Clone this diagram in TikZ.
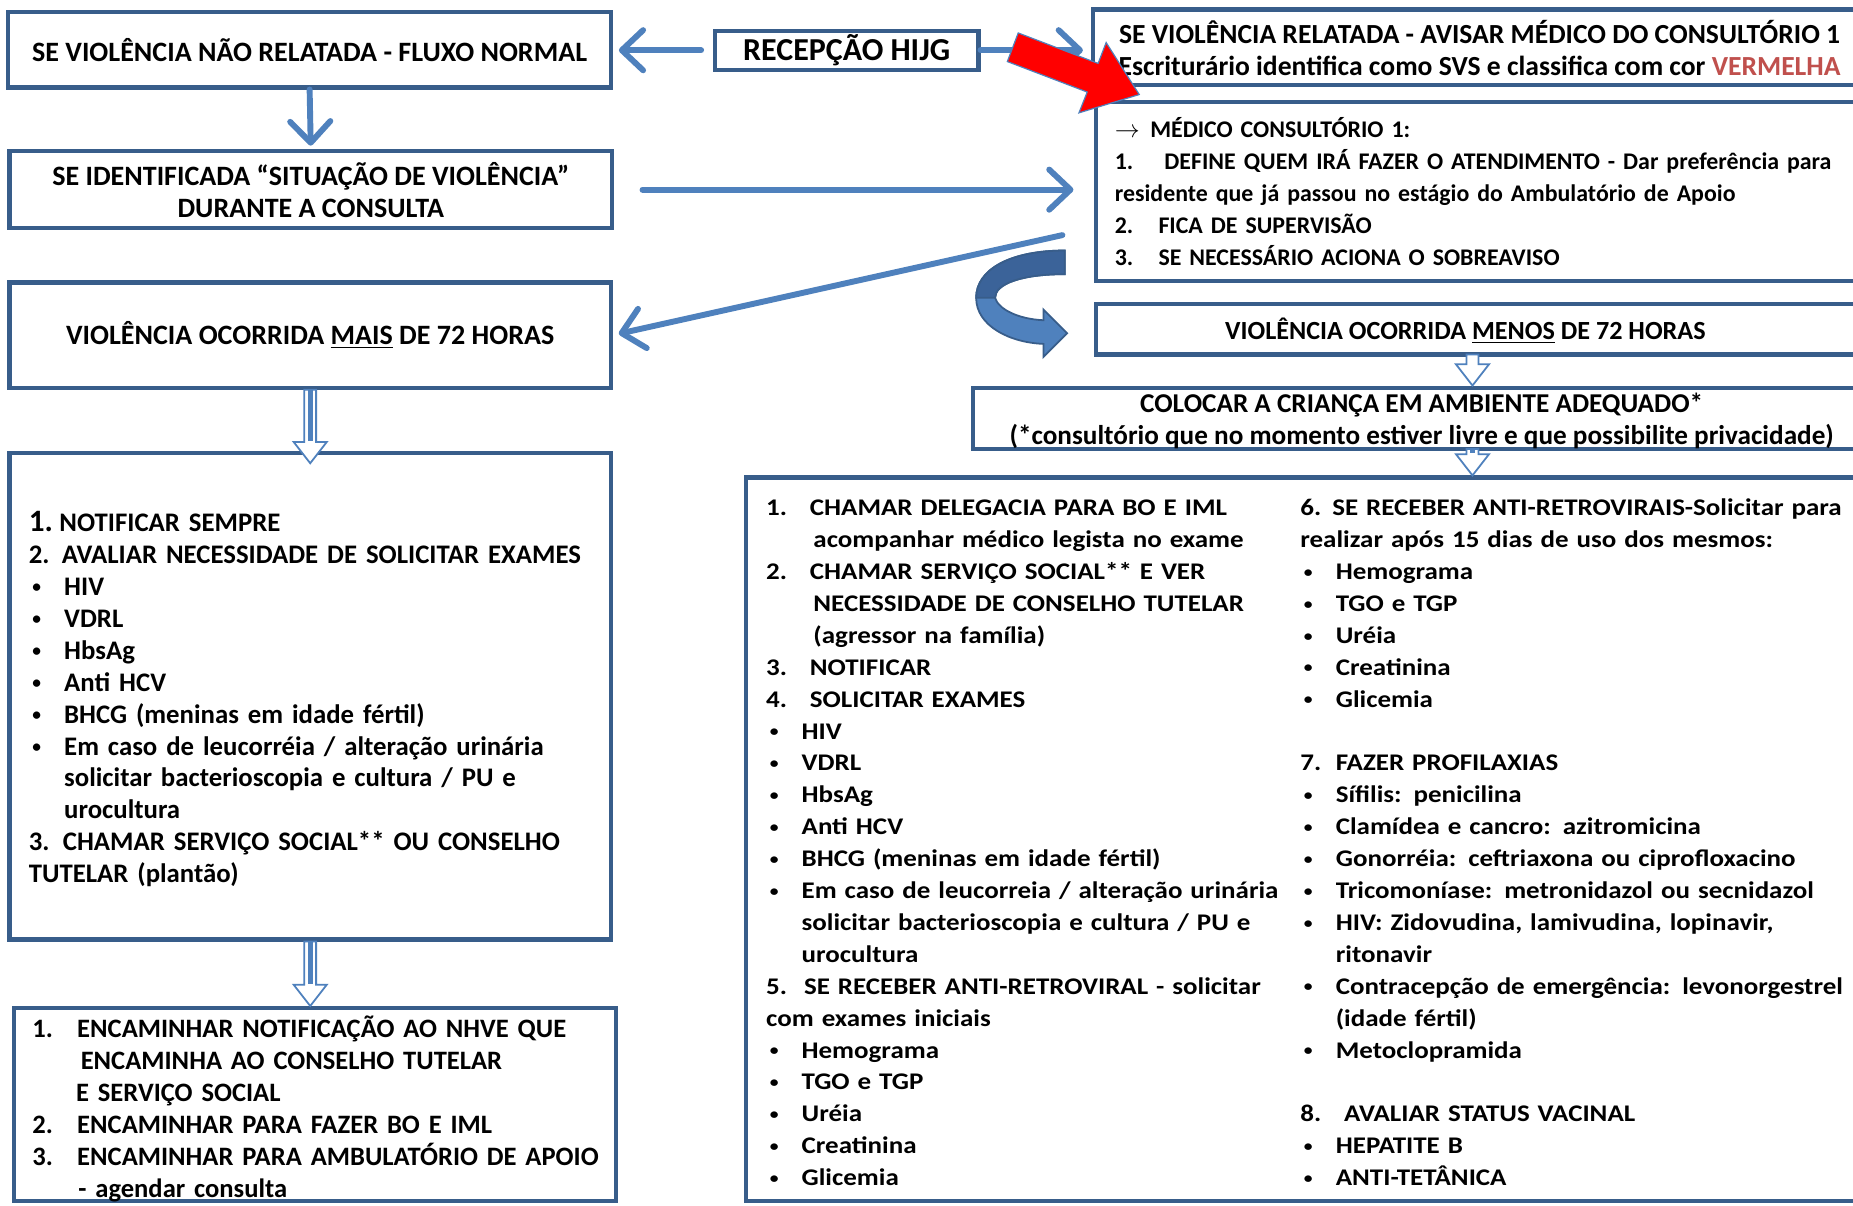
\documentclass[tikz,border=0pt]{standalone}
\usepackage{fontspec}
\usepackage{graphicx}
\setmainfont{Carlito}
\newfontfamily\largo[FakeStretch=1.13]{Carlito}
\usetikzlibrary{arrows.meta,calc}

\definecolor{borda}{HTML}{385D8A}
\definecolor{azul}{HTML}{4F81BD}
\definecolor{azulesc}{HTML}{3B6399}
\definecolor{verm}{HTML}{C0504D}

% marcador de lista
\newcommand{\bol}{\makebox[0.6cm][l]{\hspace{0.06cm}\raisebox{0.1em}{\scalebox{0.65}{\textbullet}}}}
% tamanho da letra
\newcommand{\tam}[1]{\fontsize{#1}{15.36}\selectfont}
% seta oca vertical: #2 origem, #3 destino
\newcommand{\setaoca}[3][]{%
  \draw[azul, fill=white, line width=0.03cm] let \p1=(#2), \p2=(#3) in
    (\x1-0.1cm,\y1) -- (\x1-0.1cm,\y2+0.36cm) -- (\x1-0.28cm,\y2+0.36cm) -- (\x1,\y2)
    -- (\x1+0.28cm,\y2+0.36cm) -- (\x1+0.1cm,\y2+0.36cm) -- (\x1+0.1cm,\y1) -- cycle;
  \draw[azul, line width=0.08cm, #1] let \p1=(#2), \p2=(#3) in
    (\x1,\y1) -- (\x1,\y2+0.38cm);
}

\begin{document}
\begin{tikzpicture}[x=0.02cm, y=-0.02cm,
  caixa/.style={draw=borda, line width=0.07cm, fill=white, inner sep=0pt, align=center,
    font=\bfseries\tam{13.5}},
  texto/.style={inner sep=0pt, anchor=base west, align=left,
    font=\bfseries\tam{11.5}},
  seta/.style={azul, line width=0.1cm, line cap=round,
    -{Straight Barb[length=0.36cm, width=0.68cm, round]}}]
\useasboundingbox (0,0) rectangle (1568,1020);
\clip (0,0) rectangle (1568,1020);
\fill[white] (0,0) rectangle (1568,1020);

% caixas
\node[caixa, minimum width=10.2cm, minimum height=1.28cm] (semvio) at (262,42)
  {SE VIOLÊNCIA NÃO RELATADA - FLUXO NORMAL};
\node[caixa, minimum width=4.46cm, minimum height=0.66cm, font=\bfseries\tam{15.4}]
  (recep) at (716.5,42.5) {RECEPÇÃO HIJG};
\node[caixa, minimum width=13.5cm, minimum height=1.28cm] (comvio) at (1262.5,40) {};
\node[caixa, minimum width=13.46cm, minimum height=3.04cm] (medico) at (1263.5,162) {};
\node[caixa, minimum width=10.2cm, minimum height=1.3cm] (durcons) at (263,160.5)
  {SE IDENTIFICADA “SITUAÇÃO DE VIOLÊNCIA”\\DURANTE A CONSULTA};
\node[caixa, minimum width=10.18cm, minimum height=1.78cm] (mais72) at (262.5,283.5)
  {VIOLÊNCIA OCORRIDA \underline{MAIS} DE 72 HORAS};
\node[caixa, minimum width=13.46cm, minimum height=0.86cm] (menos72) at (1263.5,278.5) {};
\node[caixa, minimum width=15.54cm, minimum height=1.04cm] (ambiente) at (1211.5,354) {};
\node[caixa, minimum width=19.38cm, minimum height=12.24cm] (condmenos) at (1115.5,710) {};
\node[caixa, minimum width=10.18cm, minimum height=8.24cm] (condmais) at (262.5,589) {};
\node[caixa, minimum width=10.18cm, minimum height=3.26cm] (encam) at (266.5,934.5) {};

% textos das caixas da direita
\node[caixa, draw=none, fill=none, font=\bfseries\tam{13.3}] (comviotxt) at (1252,41)
  {SE VIOLÊNCIA RELATADA - AVISAR MÉDICO DO CONSULTÓRIO 1\\
   Escriturário identifica como SVS e classifica com cor \textcolor{verm}{VERMELHA}};
\node[texto, text width=13cm] (medicotxt) at (943,116.5)
  {\makebox[0.6cm][l]{$\rightarrow$}MÉDICO CONSULTÓRIO 1:\\
   \makebox[0.84cm][l]{1.}DEFINE QUEM IRÁ FAZER O ATENDIMENTO - Dar preferência para\\
   residente que já passou no estágio do Ambulatório de Apoio\\
   \makebox[0.74cm][l]{2.}FICA DE SUPERVISÃO\\
   \makebox[0.74cm][l]{3.}SE NECESSÁRIO ACIONA O SOBREAVISO};
\node[caixa, draw=none, fill=none, font=\bfseries\tam{12.6}] (menos72txt) at (1240,280)
  {VIOLÊNCIA OCORRIDA \underline{MENOS} DE 72 HORAS};
\node[caixa, draw=none, fill=none, font=\bfseries\tam{13.1}] (ambientetxt) at (1203,356)
  {COLOCAR A CRIANÇA EM AMBIENTE ADEQUADO*\\
   (*consultório que no momento estiver livre e que possibilite privacidade)};

% condutas mais de 72 horas
\node[texto, text width=9.8cm, font=\bfseries\tam{12.9}] (condmaistxt) at (24,450)
  {\makebox[0.52cm][l]{\fontsize{15}{15}\selectfont 1.}NOTIFICAR SEMPRE\\
   \makebox[0.56cm][l]{2.}AVALIAR NECESSIDADE DE SOLICITAR EXAMES\\
   \bol HIV\\
   \bol VDRL\\
   \bol HbsAg\\
   \bol Anti HCV\\
   \bol BHCG (meninas em idade fértil)\\
   \bol Em caso de leucorréia / alteração urinária\\
   \hspace*{0.6cm}solicitar bacterioscopia e cultura / PU e\\
   \hspace*{0.6cm}urocultura\\
   3. CHAMAR SERVIÇO SOCIAL** OU CONSELHO\\
   TUTELAR (plantão)};
\node[texto, text width=9.8cm, font=\bfseries\tam{12.8}] (encamtxt) at (27,878)
  {\makebox[0.76cm][l]{1.}ENCAMINHAR NOTIFICAÇÃO AO NHVE QUE\\
   \hspace*{0.82cm}ENCAMINHA AO CONSELHO TUTELAR\\
   \hspace*{0.74cm}E SERVIÇO SOCIAL\\
   \makebox[0.76cm][l]{2.}ENCAMINHAR PARA FAZER BO E IML\\
   \makebox[0.76cm][l]{3.}ENCAMINHAR PARA AMBULATÓRIO DE APOIO\\
   \hspace*{0.78cm}- agendar consulta};

% condutas menos de 72 horas
\node[texto, text width=9cm, font=\largo\bfseries\tam{11.5}]
  (condcol1) at (648,436.5)
  {\makebox[0.74cm][l]{1.}CHAMAR DELEGACIA PARA BO E IML\\
   \hspace*{0.8cm}acompanhar médico legista no exame\\
   \makebox[0.74cm][l]{2.}CHAMAR SERVIÇO SOCIAL** E VER\\
   \hspace*{0.8cm}NECESSIDADE DE CONSELHO TUTELAR\\
   \hspace*{0.8cm}(agressor na família)\\
   \makebox[0.74cm][l]{3.}NOTIFICAR\\
   \makebox[0.74cm][l]{4.}SOLICITAR EXAMES\\
   \bol HIV\\
   \bol VDRL\\
   \bol HbsAg\\
   \bol Anti HCV\\
   \bol BHCG (meninas em idade fértil)\\
   \bol Em caso de leucorreia / alteração urinária\\
   \hspace*{0.6cm}solicitar bacterioscopia e cultura / PU e\\
   \hspace*{0.6cm}urocultura\\
   \makebox[0.64cm][l]{5.}SE RECEBER ANTI-RETROVIRAL - solicitar\\
   com exames iniciais\\
   \bol Hemograma\\
   \bol TGO e TGP\\
   \bol Uréia\\
   \bol Creatinina\\
   \bol Glicemia};
\node[texto, text width=10cm, font=\largo\bfseries\tam{11.5}]
  (condcol2) at (1100,436.5)
  {\makebox[0.54cm][l]{6.}SE RECEBER ANTI-RETROVIRAIS-Solicitar para\\
   realizar após 15 dias de uso dos mesmos:\\
   \bol Hemograma\\
   \bol TGO e TGP\\
   \bol Uréia\\
   \bol Creatinina\\
   \bol Glicemia\\[15.36pt]
   \makebox[0.6cm][l]{7.}FAZER PROFILAXIAS\\
   \bol Sífilis: penicilina\\
   \bol Clamídea e cancro: azitromicina\\
   \bol Gonorréia: ceftriaxona ou ciprofloxacino\\
   \bol Tricomoníase: metronidazol ou secnidazol\\
   \bol HIV: Zidovudina, lamivudina, lopinavir,\\
   \hspace*{0.6cm}ritonavir\\
   \bol Contracepção de emergência: levonorgestrel\\
   \hspace*{0.6cm}(idade fértil)\\
   \bol Metoclopramida\\[15.36pt]
   \makebox[0.74cm][l]{8.}AVALIAR STATUS VACINAL\\
   \bol HEPATITE B\\
   \bol ANTI-TETÂNICA};

% setas
\draw[seta, shorten <=0.2cm, shorten >=0.1cm] (recep.west) -- (recep.west -| semvio.east);
\draw[seta, shorten >=0.14cm] (recep.east) -- (recep.east -| comvio.west);
\draw[seta, shorten >=0.06cm] (semvio.south) -- (durcons.north);
\draw[seta, shorten <=0.48cm, shorten >=0.34cm] (durcons.east) -- (durcons.east -| medico.west);
\coordinate (medsai) at ($(medico.south west)!0.3!(medico.north west)$);
\draw[seta, shorten <=0.54cm, shorten >=0.1cm] (medsai) -- (mais72.east);

% seta vermelha
\filldraw[fill=red, draw=azul, line width=0.02cm]
  (861.6,27.9) -- (929.2,53.7) -- (936,36) -- (964,80) -- (913,95.5)
  -- (920,77.9) -- (852.4,52.1) -- cycle;

% seta curva
\filldraw[fill=azul, draw=borda, line width=0.03cm]
  (901,212) .. controls (855,212) and (826,228) .. (826,252)
  .. controls (826,276) and (855,290) .. (883,291) -- (883,302) -- (903,282)
  -- (883,262) -- (883,271) .. controls (862,270) and (845,262) .. (842,252)
  .. controls (842,240) and (865,232) .. (901,232) -- cycle;
\filldraw[fill=azulesc, draw=borda, line width=0.03cm]
  (901,212) .. controls (855,212) and (826,228) .. (826,252) -- (842,252)
  .. controls (842,240) and (865,232) .. (901,232) -- cycle;

% setas ocas
\setaoca{mais72.south}{mais72.south |- {(0,392)}}
\setaoca{condmais.south}{condmais.south |- encam.north}
\coordinate (menossai) at (1246,300);
\setaoca[draw=none]{menossai}{menossai |- ambiente.north}
\coordinate (ambsai) at (1246,380);
\setaoca{ambsai}{ambsai |- condmenos.north}
\end{tikzpicture}
\end{document}
